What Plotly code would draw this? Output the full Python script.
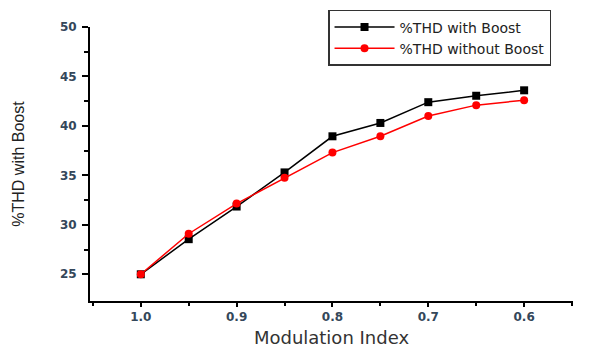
import plotly.graph_objects as go

modulation_index = [1.0, 0.95, 0.9, 0.85, 0.8, 0.75, 0.7, 0.65, 0.6]
thd_with_boost = [25.0, 28.55, 31.85, 35.3, 38.95, 40.3, 42.4, 43.05, 43.6]
thd_without_boost = [25.0, 29.1, 32.15, 34.75, 37.3, 38.95, 41.0, 42.1, 42.6]

x_major = [1.0, 0.9, 0.8, 0.7, 0.6]
x_major_labels = ["1.0", "0.9", "0.8", "0.7", "0.6"]
x_minor = [1.05, 0.95, 0.85, 0.75, 0.65, 0.55]
y_major = [25, 30, 35, 40, 45, 50]
y_minor = [27.5, 32.5, 37.5, 42.5, 47.5]

fig = go.Figure()
fig.add_trace(go.Scatter(
    x=modulation_index, y=thd_with_boost, mode="lines+markers",
    name="%THD with Boost",
    line=dict(color="black", width=1.5),
    marker=dict(symbol="square", size=8, color="black"),
))
fig.add_trace(go.Scatter(
    x=modulation_index, y=thd_without_boost, mode="lines+markers",
    name="%THD without Boost",
    line=dict(color="red", width=1.5),
    marker=dict(symbol="circle", size=8, color="red"),
))

tick_font = dict(family="DejaVu Sans", size=12, color="#34475a", weight="bold")

fig.update_layout(
    width=602, height=353,
    margin=dict(l=90, r=29, t=27, b=52, autoexpand=False),
    paper_bgcolor="white", plot_bgcolor="white",
    showlegend=True,
    legend=dict(
        xref="container", yref="container",
        x=0.5449, y=0.9717, xanchor="left", yanchor="top",
        bordercolor="#333333", borderwidth=1.5, bgcolor="white",
        font=dict(family="DejaVu Sans", size=14, color="#222222"),
        tracegroupgap=0, itemwidth=60,
    ),
    xaxis=dict(
        range=[1.053, 0.549], showgrid=False, zeroline=False,
        showline=True, linecolor="black", linewidth=2,
        tickmode="array", tickvals=x_major, ticktext=x_major_labels,
        ticks="outside", ticklen=4, tickwidth=2, tickcolor="black",
        tickfont=tick_font,
        minor=dict(tickmode="array", tickvals=x_minor, ticks="outside",
                   ticklen=3, tickwidth=2, tickcolor="black"),
        title=dict(text="Modulation Index", standoff=8,
                   font=dict(family="DejaVu Sans", size=18, color="#333333")),
    ),
    yaxis=dict(
        range=[22.3, 50], showgrid=False, zeroline=False,
        showline=True, linecolor="black", linewidth=2,
        tickmode="array", tickvals=y_major,
        ticks="outside", ticklen=6, tickwidth=2, tickcolor="black",
        tickfont=tick_font, ticklabelstandoff=3,
        minor=dict(tickmode="array", tickvals=y_minor, ticks="outside",
                   ticklen=4, tickwidth=2, tickcolor="black"),
        title=dict(text="%THD with Boost", standoff=31,
                   font=dict(family="Liberation Sans", size=16, color="#222222")),
    ),
)

fig.write_html("out.html", config={"displayModeBar": False})

# remove the browser's default page margin so the figure sits at the top-left corner
with open("out.html", "r", encoding="utf-8") as f:
    html = f.read()
html = html.replace("<head>", "<head><style>html,body{margin:0;padding:0;overflow:hidden;}</style>", 1)
with open("out.html", "w", encoding="utf-8") as f:
    f.write(html)
